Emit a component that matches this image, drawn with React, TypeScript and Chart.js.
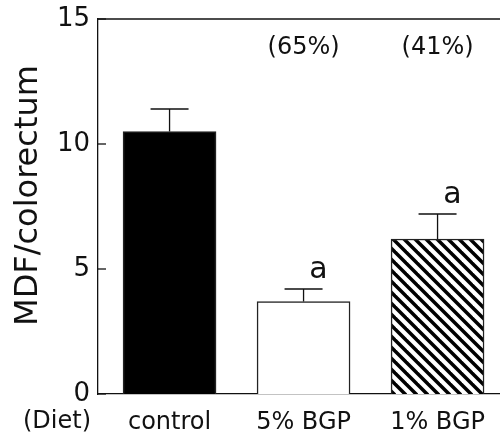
import React, { useEffect, useRef } from 'react';
import { Chart, registerables } from 'chart.js';

Chart.register(...registerables);

const categories = ['control', '5% BGP', '1% BGP'];
const means = [10.5, 3.7, 6.2];
const errUpper = [11.4, 4.2, 7.2];
const percentLabels = ['', '(65%)', '(41%)'];
const sigLetters = ['', 'a', 'a'];
const yTickValues = [0, 5, 10, 15];
const yTitle = 'MDF/colorectum';
const xGroupTitle = '(Diet)';

const FONT = '"DejaVu Sans", sans-serif';
const INK = '#111';

function makeHatch(): CanvasPattern | string {
  const s = 11;
  const c = document.createElement('canvas');
  c.width = s;
  c.height = s;
  const g = c.getContext('2d');
  if (!g) return '#888';
  g.fillStyle = '#fff';
  g.fillRect(0, 0, s, s);
  g.strokeStyle = '#000';
  g.lineWidth = 3.5;
  for (let k = -1; k <= 1; k++) {
    g.beginPath();
    g.moveTo(k * s - 2, -2);
    g.lineTo(k * s + s + 2, s + 2);
    g.stroke();
  }
  const ctx = document.createElement('canvas').getContext('2d');
  return ctx ? (ctx.createPattern(c, 'repeat') as CanvasPattern) : '#888';
}

const decorPlugin = {
  id: 'decor',
  afterDatasetsDraw(chart: any) {
    const { ctx, chartArea, scales } = chart;
    const xs = scales.x;
    const ys = scales.y;
    ctx.save();
    ctx.strokeStyle = INK;
    ctx.lineWidth = 1.3;
    // top frame line
    ctx.beginPath();
    ctx.moveTo(chartArea.left, chartArea.top);
    ctx.lineTo(chartArea.right, chartArea.top);
    ctx.stroke();
    // inward y ticks
    yTickValues.forEach((v) => {
      const y = ys.getPixelForValue(v);
      ctx.beginPath();
      ctx.moveTo(chartArea.left, y);
      ctx.lineTo(chartArea.left + 8, y);
      ctx.stroke();
    });
    // error bars
    means.forEach((m, i) => {
      const x = xs.getPixelForValue(i);
      const yb = ys.getPixelForValue(m);
      const yt = ys.getPixelForValue(errUpper[i]);
      ctx.beginPath();
      ctx.moveTo(x, yb);
      ctx.lineTo(x, yt);
      ctx.moveTo(x - 19, yt);
      ctx.lineTo(x + 19, yt);
      ctx.stroke();
    });
    // labels
    ctx.fillStyle = INK;
    ctx.textAlign = 'center';
    ctx.textBaseline = 'middle';
    ctx.font = '24px ' + FONT;
    percentLabels.forEach((t, i) => {
      if (!t) return;
      ctx.fillText(t, xs.getPixelForValue(i), chartArea.top + 29);
    });
    ctx.font = '30px ' + FONT;
    sigLetters.forEach((t, i) => {
      if (!t) return;
      ctx.fillText(t, xs.getPixelForValue(i) + 15, ys.getPixelForValue(errUpper[i]) - 19);
    });
    ctx.font = '24px ' + FONT;
    ctx.fillText(xGroupTitle, 57, chartArea.bottom + 28);
    // y title
    ctx.save();
    ctx.translate(37, 195.5);
    ctx.rotate(-Math.PI / 2);
    ctx.font = '32px ' + FONT;
    ctx.textBaseline = 'alphabetic';
    ctx.fillText(yTitle, 0, 0);
    ctx.restore();
    ctx.restore();
  },
};

export default function App() {
  const ref = useRef<HTMLCanvasElement>(null);
  useEffect(() => {
    if (!ref.current) return;
    const hatch = makeHatch();
    const chart = new Chart(ref.current, {
      type: 'bar',
      data: {
        datasets: [
          {
            data: means.map((v, i) => ({ x: i, y: v })),
            backgroundColor: ['#000', '#fff', hatch as any],
            borderColor: '#222',
            borderWidth: 1.5,
            barThickness: 93,
          },
        ],
      },
      options: {
        animation: false,
        responsive: false,
        layout: { padding: { top: 19, right: 0, left: 0, bottom: 0 } },
        plugins: { legend: { display: false }, tooltip: { enabled: false } },
        scales: {
          x: {
            type: 'linear',
            min: -0.534,
            max: 2.466,
            offset: false,
            grid: { display: false, drawTicks: false },
            border: { display: true, color: INK, width: 1.3 },
            afterBuildTicks: (axis: any) => {
              axis.ticks = categories.map((_, i) => ({ value: i }));
            },
            afterFit: (axis: any) => {
              axis.height = 45;
              axis.paddingLeft = 0;
              axis.paddingRight = 0;
            },
            ticks: {
              padding: 14,
              color: INK,
              font: { family: FONT, size: 24 },
              callback: (v: any) => categories[v] ?? '',
            },
          },
          y: {
            min: 0,
            max: 15,
            grid: { display: false, drawTicks: false },
            border: { display: true, color: INK, width: 1.3 },
            afterBuildTicks: (axis: any) => {
              axis.ticks = yTickValues.map((v) => ({ value: v }));
            },
            afterFit: (axis: any) => {
              axis.width = 98;
              axis.paddingTop = 0;
              axis.paddingBottom = 0;
            },
            ticks: {
              padding: 8,
              color: INK,
              font: { family: FONT, size: 26 },
            },
          },
        },
      },
      plugins: [decorPlugin],
    });
    return () => chart.destroy();
  }, []);
  return (
    <div style={{ position: 'fixed', left: 0, top: 0, width: 500, height: 439, background: '#fff' }}>
      <canvas ref={ref} width={500} height={439} />
    </div>
  );
}
